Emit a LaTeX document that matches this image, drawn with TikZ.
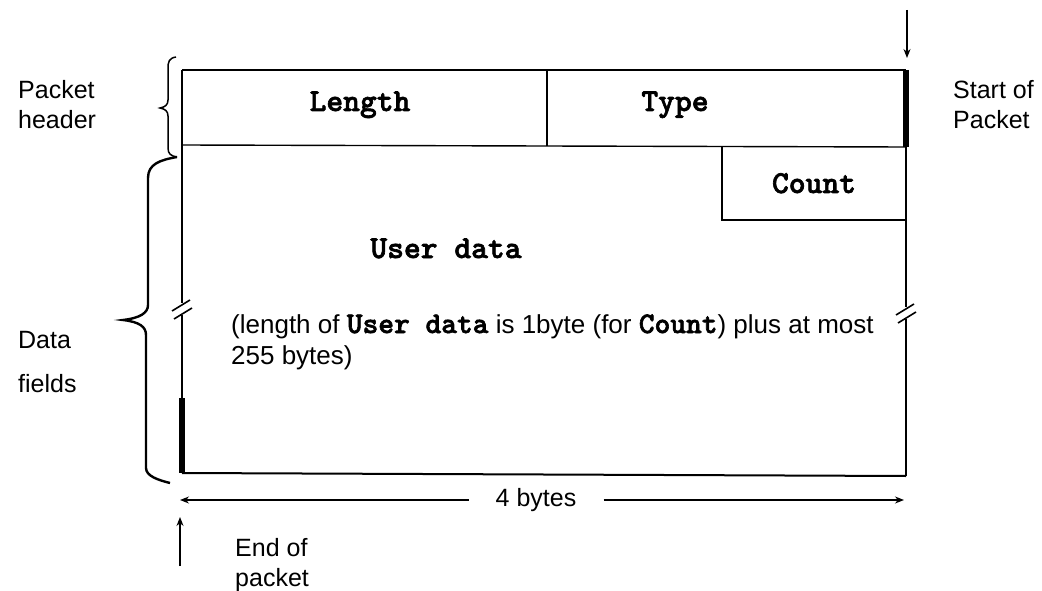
\documentclass[tikz,border=0pt]{standalone}
\usepackage{fontspec}
\setmainfont{Liberation Sans}
\newfontfamily\codefont{lmmonolt10-bold.otf}[FakeBold=2]
\usetikzlibrary{arrows.meta}

\begin{document}
\begin{tikzpicture}[x=1pt,y=-1pt,
  frame/.style={line width=1.4pt},
  thickbar/.style={line width=6pt},
  lbl/.style={font=\fontsize{25}{30}\selectfont, align=left, inner sep=0pt},
  notetext/.style={font=\fontsize{26}{31}\selectfont, align=left, inner sep=0pt},
  field/.style={font=\codefont\fontsize{32}{34}\selectfont, inner sep=0pt},
  arr/.style={line width=1.2pt, -{Stealth[length=9pt,width=7pt]}},
  brk/.style={line width=1.6pt},
  brace/.style={line width=1.5pt},
  bigbrace/.style={line width=2.4pt},
]
\useasboundingbox (0,0) rectangle (1042,591);

% corners of the packet frame
\coordinate (TL) at (182,70);
\coordinate (TR) at (906,70);
\coordinate (HL) at (182,145);
\coordinate (HR) at (906,147);
\coordinate (BL) at (182,473);
\coordinate (BR) at (906,476);
\coordinate (D1) at (547,70);
\coordinate (D2) at (547,146);
\coordinate (C1) at (722,147);
\coordinate (C2) at (722,220);
\coordinate (C3) at (906,220);

% frame lines
\draw[frame] (TL) -- (TR);
\draw[frame] (HL) -- (HR);
\draw[frame] (D1) -- (D2);
\draw[frame] (C1) -- (C2) -- (C3);
\draw[line width=2pt] (BL) -- (BR);

% left edge with break, thick end marker
\coordinate (LbreakA) at (182,303);
\coordinate (LbreakB) at (182,315);
\coordinate (Lbar) at (182,398);
\draw[frame] (TL) -- (LbreakA);
\draw[frame] (LbreakB) -- (Lbar);
\draw[thickbar] (Lbar) -- (BL);
\draw[brk] (172,311) -- (190,300);
\draw[brk] (174,319) -- (192,308);

% right edge with break, thick start marker
\coordinate (RbreakA) at (906,307);
\coordinate (RbreakB) at (906,319);
\draw[thickbar] (TR) -- (HR);
\draw[frame] (HR) -- (RbreakA);
\draw[frame] (RbreakB) -- (BR);
\draw[brk] (896,315) -- (914,304);
\draw[brk] (898,323) -- (916,312);

% field names
\node[field, anchor=base] (len) at (360,111) {Length};
\node[field, anchor=base] (typ) at (675,111) {Type};
\node[field, anchor=base] (cnt) at (814,193) {Count};
\node[field, anchor=base] (ud) at (446,258) {User data};

% note on the length of the user data
\node[notetext, anchor=north west] (note) at (231,314)
  {(length of {\codefont\fontsize{30}{31}\selectfont User data} is 1byte (for {\codefont\fontsize{30}{31}\selectfont Count}) plus at most\\255 bytes)};

% side labels
\node[lbl, anchor=west] (ph) at (18,105) {Packet\\header};
\node[lbl, anchor=west] (sop) at (953,105) {Start of\\Packet};
\node[lbl, anchor=west] (df) at (18,362) {Data\\[14pt]fields};
\node[lbl, anchor=west] (eop) at (235,565) {End of\\packet};

% braces
\draw[brace] (176,57) .. controls (169,58) and (168,62) .. (168,68) -- (168,100)
  .. controls (168,105) and (165,107) .. (160,108)
  .. controls (165,109) and (168,111) .. (168,116) -- (168,148)
  .. controls (168,154) and (171,156) .. (177,157);
\draw[bigbrace] (177,157) .. controls (160,160) and (148,164) .. (148,178) -- (148,305)
  .. controls (148,313) and (140,318) .. (123,320)
  .. controls (140,322) and (146,327) .. (146,335) -- (146,468)
  .. controls (146,476) and (158,480) .. (170,483);

% start and end pointers
\coordinate (spFrom) at (907,10);
\coordinate (spTo) at (907,58);
\draw[arr] (spFrom) -- (spTo);
\coordinate (epFrom) at (180,566);
\coordinate (epTo) at (180,517);
\draw[arr] (epFrom) -- (epTo);

% width dimension
\node[lbl, inner xsep=27pt] (w) at (536,500) {4 bytes};
\coordinate (wL) at (180,500);
\coordinate (wR) at (904,500);
\draw[arr] (w.west) -- (wL);
\draw[arr] (w.east) -- (wR);
\end{tikzpicture}
\end{document}
